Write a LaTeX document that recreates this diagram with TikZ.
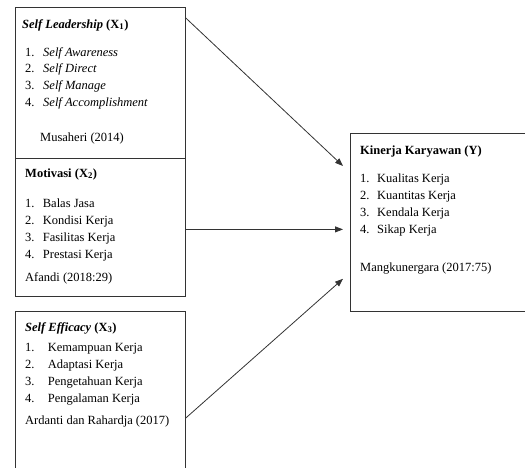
\documentclass[tikz,border=0pt]{standalone}
\usepackage{fontspec}
\setmainfont{Liberation Serif}
\usepackage{tikz}
\usetikzlibrary{positioning, arrows.meta}
\usetikzlibrary{calc}

\tikzset{
  varbox/.style={draw=black!80, line width=0.8pt, anchor=north west, minimum width=170pt, inner sep=0pt},
  txt/.style={anchor=base west, inner sep=0pt, font=\fontsize{12.5}{15}\selectfont},
  link/.style={draw=black!80, line width=0.8pt, -{Triangle[length=8pt,width=6pt]}}
}

\begin{document}
\begin{tikzpicture}[x=1pt, y=-1pt]
    \clip (0,0) rectangle (525,467);

    % draw the four boxes
    \node[varbox, minimum height=151pt] (x1box) at (15,7) {};
    \node[varbox, minimum height=138pt] (x2box) at (15,158) {};
    \node[varbox, minimum height=170pt] (x3box) at (15,311) {};
    \node[varbox, minimum width=185pt, minimum height=178pt] (ybox) at (350,133) {};

    % Self Leadership (X1)
    \node[txt] (x1title) at (22,28) {\textbf{\textit{Self Leadership} (X\textsubscript{1})}};
    \node[txt] (x1a) at (25,56)    {\makebox[18pt][l]{1.}\textit{Self Awareness}};
    \node[txt] (x1b) at (25,72.7)  {\makebox[18pt][l]{2.}\textit{Self Direct}};
    \node[txt] (x1c) at (25,89.3)  {\makebox[18pt][l]{3.}\textit{Self Manage}};
    \node[txt] (x1d) at (25,106)   {\makebox[18pt][l]{4.}\textit{Self Accomplishment}};
    \node[txt] (x1src) at (40,141) {Musaheri (2014)};

    % Motivasi (X2)
    \node[txt] (x2title) at (25,177) {\textbf{Motivasi (X\textsubscript{2})}};
    \node[txt] (x2a) at (25,207.5) {\makebox[17.7pt][l]{1.}Balas Jasa};
    \node[txt] (x2b) at (25,224.5) {\makebox[17.7pt][l]{2.}Kondisi Kerja};
    \node[txt] (x2c) at (25,241.5) {\makebox[17.7pt][l]{3.}Fasilitas Kerja};
    \node[txt] (x2d) at (25,258.5) {\makebox[17.7pt][l]{4.}Prestasi Kerja};
    \node[txt] (x2src) at (25,281) {Afandi (2018:29)};

    % Self Efficacy (X3)
    \node[txt] (x3title) at (25,331) {\textbf{\textit{Self Efficacy} (X\textsubscript{3})}};
    \node[txt] (x3a) at (25,351) {\makebox[22.7pt][l]{1.}Kemampuan Kerja};
    \node[txt] (x3b) at (25,368) {\makebox[22.7pt][l]{2.}Adaptasi Kerja};
    \node[txt] (x3c) at (25,385) {\makebox[22.7pt][l]{3.}Pengetahuan Kerja};
    \node[txt] (x3d) at (25,402) {\makebox[22.7pt][l]{4.}Pengalaman Kerja};
    \node[txt] (x3src) at (25,424) {Ardanti dan Rahardja (2017)};

    % Kinerja Karyawan (Y)
    \node[txt] (ytitle) at (360,154) {\textbf{Kinerja Karyawan (Y)}};
    \node[txt] (ya) at (360,182.5) {\makebox[17pt][l]{1.}Kualitas Kerja};
    \node[txt] (yb) at (360,199.5) {\makebox[17pt][l]{2.}Kuantitas Kerja};
    \node[txt] (yc) at (360,216.5) {\makebox[17pt][l]{3.}Kendala Kerja};
    \node[txt] (yd) at (360,233.5) {\makebox[17pt][l]{4.}Sikap Kerja};
    \node[txt] (ysrc) at (360,271) {Mangkunergara (2017:75)};

    % arrow ends
    \coordinate (x1out) at ($(x1box.north east)+(0,11)$);
    \coordinate (x2out) at ($(x2box.east)+(0,2)$);
    \coordinate (x3out) at ($(x3box.north east)+(0,107)$);
    \coordinate (yin1) at ($(ybox.north west)+(-7,33)$);
    \coordinate (yin2) at (x2out -| yin1);
    \coordinate (yin3) at ($(ybox.south west)+(-7,-33)$);

    % draw the arrows to Y
    \draw[link] (x1out) -- (yin1);
    \draw[link] (x2out) -- (yin2);
    \draw[link] (x3out) -- (yin3);

\end{tikzpicture}
\end{document}
